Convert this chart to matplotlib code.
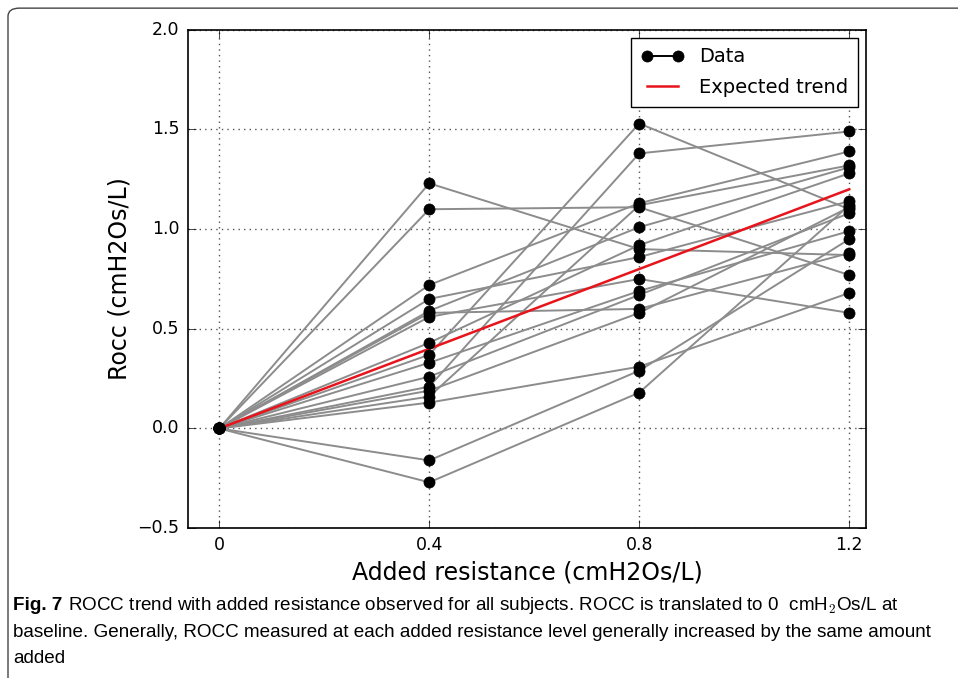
import matplotlib
matplotlib.use("Agg")
import matplotlib.pyplot as plt
from matplotlib.patches import FancyBboxPatch

resistance = [0, 0.4, 0.8, 1.2]

# one row per subject: ROCC at 0, 0.4, 0.8, 1.2 added resistance
rocc_04 = [1.23, 1.10, 0.72, 0.65, 0.59, 0.58, 0.56, 0.43, 0.37, 0.33, 0.26, 0.21, 0.19, 0.16, 0.13, -0.16, -0.27]
rocc_08 = [0.90, 1.11, 1.13, 0.86, 1.01, 0.60, 0.75, 0.92, 1.53, 0.69, 0.67, 1.38, 0.58, 1.12, 0.31, 0.29, 0.18]
rocc_12 = [0.87, 0.77, 1.39, 1.14, 1.31, 0.88, 0.58, 1.28, 1.10, 0.99, 1.08, 1.49, 1.11, 1.32, 0.68, 0.95, 1.12]

expected_x = [0, 1.2]
expected_y = [0, 1.2]

x_ticks = [0, 0.4, 0.8, 1.2]
x_tick_labels = ["0", "0.4", "0.8", "1.2"]
y_ticks = [-0.5, 0.0, 0.5, 1.0, 1.5, 2.0]

plt.style.use("classic")
plt.rcParams["font.family"] = ["DejaVu Sans"]

fig = plt.figure(figsize=(9.58, 6.78), dpi=100, facecolor="white")
ax = fig.add_axes([0.196, 0.221, 0.708, 0.735])

for i in range(len(rocc_04)):
    ys = [0, rocc_04[i], rocc_08[i], rocc_12[i]]
    ax.plot(resistance, ys, color="#8c8c8c", lw=1.4, zorder=2)

for i in range(len(rocc_04)):
    ys = [0, rocc_04[i], rocc_08[i], rocc_12[i]]
    ax.plot(resistance, ys, ls="none", marker="o", ms=8, color="black",
            mec="black", zorder=4)

ax.plot([], [], color="black", marker="o", ms=8, lw=1.4, label="Data")
ax.plot(expected_x, expected_y, color="#e8141c", lw=1.8, zorder=3, label="Expected trend")

ax.set_xlim(-0.06, 1.232)
ax.set_ylim(-0.5, 2.0)
ax.set_xticks(x_ticks)
ax.set_xticklabels(x_tick_labels)
ax.set_yticks(y_ticks)
ax.set_yticklabels(["\u22120.5", "0.0", "0.5", "1.0", "1.5", "2.0"])
ax.tick_params(labelsize=12.5, direction="in", length=6, pad=6)
ax.grid(True, ls=":", color="#555555", lw=1)
ax.set_axisbelow(True)
ax.set_xlabel("Added resistance (cmH2Os/L)", fontsize=17, labelpad=4)
ax.set_ylabel("Rocc (cmH2Os/L)", fontsize=17, labelpad=4)
for s in ax.spines.values():
    s.set_linewidth(1.2)

leg = ax.legend(loc="upper right", numpoints=2, fontsize=14, fancybox=False,
                borderpad=0.5, handlelength=2.2, labelspacing=0.6,
                borderaxespad=0.4)
leg.get_frame().set_linewidth(1.0)

# caption box
box = FancyBboxPatch((8 / 958, -0.05), 1.2, 1.038, transform=fig.transFigure,
                     boxstyle="round,pad=0,rounding_size=0.012", fill=False,
                     ec="#444444", lw=1.0)
fig.patches.append(box)

cap_font = ["Liberation Sans", "DejaVu Sans"]
cap_size = 13.6
t0 = fig.text(13 / 958, 1 - 610 / 678, "Fig. 7", fontsize=cap_size, fontweight="bold",
              family=cap_font, va="baseline")
fig.canvas.draw()
bb = t0.get_window_extent()
fig.text((bb.x1 + 6) / 958, 1 - 610 / 678,
         "ROCC trend with added resistance observed for all subjects. ROCC is translated to 0  cmH$_2$Os/L at",
         fontsize=cap_size, family=cap_font, va="baseline")
fig.text(13 / 958, 1 - 637 / 678,
         "baseline. Generally, ROCC measured at each added resistance level generally increased by the same amount",
         fontsize=cap_size, family=cap_font, va="baseline")
fig.text(13 / 958, 1 - 663 / 678, "added", fontsize=cap_size, family=cap_font, va="baseline")

fig.savefig("out.png", dpi=100, facecolor="white")
